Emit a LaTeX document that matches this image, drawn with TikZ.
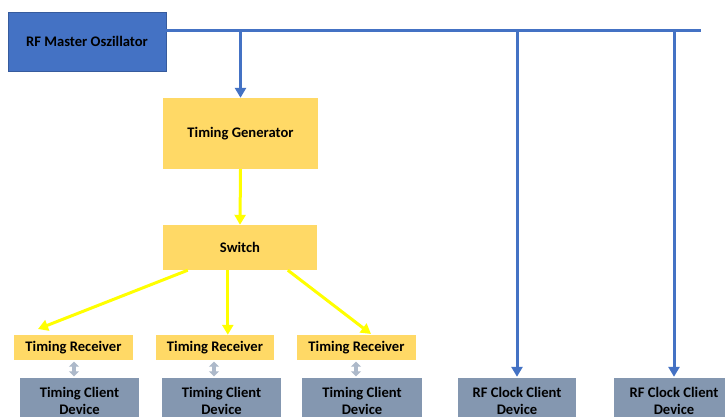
\documentclass[tikz,border=0pt]{standalone}
\usepackage{fontspec}
\setmainfont{Carlito}
\usetikzlibrary{arrows.meta,calc}
\definecolor{oblue}{HTML}{4472C4}
\definecolor{ofill}{HTML}{FFD966}
\definecolor{oyel}{HTML}{FFFF00}
\definecolor{ogrey}{HTML}{8497B0}
\definecolor{olight}{HTML}{ADB9CA}
\tikzset{
  box/.style={inner sep=0pt, align=center, font=\bfseries\fontsize{14.6}{17}\selectfont, text=black},
  master/.style={box, fill=oblue, draw=oblue!80!black, line width=0.6pt},
  ybox/.style={box, fill=ofill},
  gbox/.style={box, fill=ogrey},
  bline/.style={draw=oblue, line width=3pt},
  barrow/.style={bline, -{Triangle[width=11pt,length=10pt]}},
  yarrow/.style={draw=oyel, line width=3pt, -{Triangle[width=11pt,length=10pt]}},
  darrow/.style={draw=olight, line width=4.5pt, {Triangle[width=10pt,length=5pt]}-{Triangle[width=10pt,length=5pt]}}
}
\begin{document}
\begin{tikzpicture}[x=1pt,y=-1pt]
\useasboundingbox (0,0) rectangle (725,417);
\clip (0,0) rectangle (725,417);
\fill[white] (0,0) rectangle (725,417);
\node[master, minimum width=158pt, minimum height=59pt] (rf) at (87,41.5) {RF Master Oszillator};
\node[ybox, minimum width=155pt, minimum height=71pt] (tg) at (240.5,133.5) {Timing Generator};
\node[ybox, minimum width=154pt, minimum height=45pt] (sw) at (240,247.5) {Switch};
\node[ybox, minimum width=119pt, minimum height=25pt] (tr1) at (73.5,347.5) {Timing Receiver};
\node[ybox, minimum width=118pt, minimum height=25pt] (tr2) at (215,347.5) {Timing Receiver};
\node[ybox, minimum width=119pt, minimum height=25pt] (tr3) at (356.5,347.5) {Timing Receiver};
\node[gbox, minimum width=119pt, minimum height=46pt] (tc1) at (79.5,401) {Timing Client\\Device};
\node[gbox, minimum width=119pt, minimum height=46pt] (tc2) at (221.5,401) {Timing Client\\Device};
\node[gbox, minimum width=120pt, minimum height=46pt] (tc3) at (362,401) {Timing Client\\Device};
\node[gbox, minimum width=118pt, minimum height=46pt] (rc1) at (517,401) {RF Clock Client\\Device};
\node[gbox, minimum width=120pt, minimum height=46pt] (rc2) at (674,401) {RF Clock Client\\Device};
% blue bus
\coordinate (busL) at (166,31);
\coordinate (busR) at (701,31);
\draw[bline] (busL) -- (busR);
\draw[barrow] (tg.north |- busL) -- (tg.north);
\draw[barrow] (rc1.north |- busL) -- ($(rc1.north)+(0,-1)$);
\draw[barrow] (rc2.north |- busL) -- ($(rc2.north)+(0,-1)$);
% yellow
\draw[yarrow] (tg.south) -- (sw.north);
\coordinate (s1) at ($(sw.south west)+(25,0)$);
\coordinate (s2) at ($(sw.south west)+(65,0)$);
\coordinate (s3) at ($(sw.south west)+(125,0)$);
\coordinate (e1) at (38,329);
\coordinate (e3) at (371,334);
\draw[yarrow] (s1) -- (e1);
\draw[yarrow] (s2) -- (s2 |- tr2.north);
\draw[yarrow] (s3) -- (e3);
% double arrows
\draw[darrow] ($(tr1.south)+(0.5,1.5)$) -- ($(tr1.south |- tc1.north)+(0.5,-1.5)$);
\draw[darrow] ($(tr2.south)+(-1,1.5)$) -- ($(tr2.south |- tc2.north)+(-1,-1.5)$);
\draw[darrow] ($(tr3.south)+(-0.5,1.5)$) -- ($(tr3.south |- tc3.north)+(-0.5,-1.5)$);
\end{tikzpicture}
\end{document}
